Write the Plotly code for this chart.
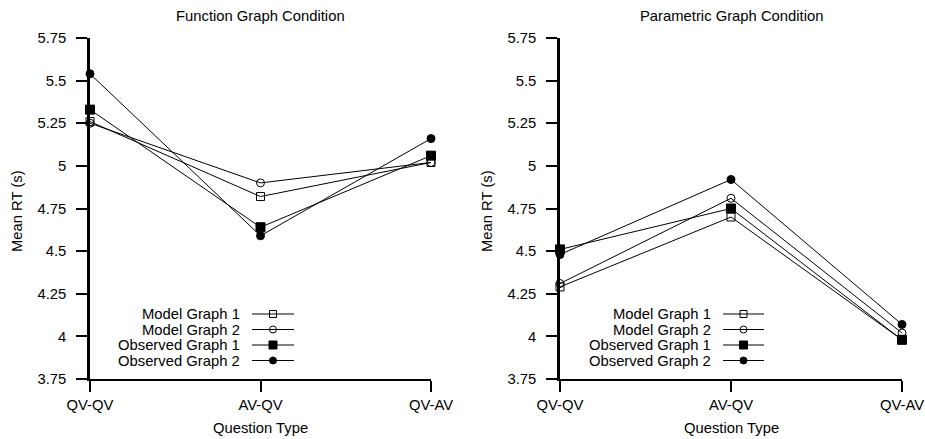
import plotly.graph_objects as go

# ---- data ----
categories = ["QV-QV", "AV-QV", "QV-AV"]
series_names = ["Model Graph 1", "Model Graph 2", "Observed Graph 1", "Observed Graph 2"]
function_model1 = [5.26, 4.82, 5.02]
function_model2 = [5.25, 4.90, 5.02]
function_obs1 = [5.33, 4.64, 5.06]
function_obs2 = [5.54, 4.59, 5.16]
parametric_model1 = [4.29, 4.70, 3.98]
parametric_model2 = [4.31, 4.81, 4.02]
parametric_obs1 = [4.51, 4.75, 3.98]
parametric_obs2 = [4.48, 4.92, 4.07]
y_ticks = [3.75, 4, 4.25, 4.5, 4.75, 5, 5.25, 5.5, 5.75]
y_tick_text = ["3.75", "4", "4.25", "4.5", "4.75", "5", "5.25", "5.5", "5.75"]
panel_titles = ["Function Graph Condition", "Parametric Graph Condition"]

# ---- styling ----
W, H = 925, 439
FONT = "Liberation Sans, Arial, sans-serif"
FS = 14.8
symbols = ["square-open", "circle-open", "square", "circle"]
sizes = [8, 8, 9, 8]
leg_sizes = [7, 7, 8, 7]

def px(x):
    return x / W

def py(y):
    return 1 - y / H

panels = [
    dict(x0=90, x1=431, data=[function_model1, function_model2, function_obs1, function_obs2],
         leg_text_right=242, leg_line=(252, 294)),
    dict(x0=560, x1=902, data=[parametric_model1, parametric_model2, parametric_obs1, parametric_obs2],
         leg_text_right=713, leg_line=(723, 764)),
]
y_top, y_bot = 38, 379
leg_rows = [314, 329.5, 345, 360.5]

fig = go.Figure()
annotations = []
layout_axes = {}

for i, p in enumerate(panels):
    xa = "x" if i == 0 else "x2"
    ya = "y" if i == 0 else "y2"
    for name, vals, sym, sz in zip(series_names, p["data"], symbols, sizes):
        fig.add_trace(go.Scatter(
            x=categories, y=vals, mode="lines+markers", name=name,
            xaxis=xa, yaxis=ya, showlegend=False, cliponaxis=False,
            line=dict(color="black", width=1),
            marker=dict(symbol=sym, size=sz, color="black", line=dict(color="black", width=1)),
        ))
    xkey = "xaxis" if i == 0 else "xaxis2"
    ykey = "yaxis" if i == 0 else "yaxis2"
    layout_axes[xkey] = dict(
        domain=[px(p["x0"]), px(p["x1"])], anchor=ya, type="category",
        range=[0, 2], showgrid=False, zeroline=False, automargin=False,
        showline=True, linecolor="black", linewidth=2,
        ticks="outside", ticklen=11, tickwidth=1.5, tickcolor="black",
        tickfont=dict(family=FONT, size=FS, color="black"),
    )
    layout_axes[ykey] = dict(
        domain=[py(y_bot), py(y_top)], anchor=xa, range=[3.75, 5.75],
        tickvals=y_ticks, ticktext=y_tick_text, showgrid=False, zeroline=False, automargin=False,
        showline=True, linecolor="black", linewidth=2.5,
        ticks="outside", ticklen=11, tickwidth=1.5, tickcolor="black",
        ticklabelstandoff=7,
        tickfont=dict(family=FONT, size=FS, color="black"),
    )
    cx = (p["x0"] + p["x1"]) / 2
    annotations.append(dict(text=panel_titles[i], x=px(cx), y=py(16), xref="paper", yref="paper",
                            showarrow=False, xanchor="center", yanchor="middle",
                            font=dict(family=FONT, size=FS, color="black")))
    annotations.append(dict(text="Question Type", x=px(cx), y=py(428), xref="paper", yref="paper",
                            showarrow=False, xanchor="center", yanchor="middle",
                            font=dict(family=FONT, size=FS, color="black")))
    annotations.append(dict(text="Mean RT (s)", x=px(p["x0"] - 73), y=py(211), xref="paper", yref="paper",
                            showarrow=False, xanchor="center", yanchor="middle", textangle=-90,
                            font=dict(family=FONT, size=FS, color="black")))
    # custom legend (text left of key, as in reference)
    lx0, lx1 = p["leg_line"]
    for name, sym, lsz, ry in zip(series_names, symbols, leg_sizes, leg_rows):
        annotations.append(dict(text=name, x=px(p["leg_text_right"]), y=py(ry), xref="paper", yref="paper",
                                showarrow=False, xanchor="right", yanchor="middle",
                                font=dict(family=FONT, size=FS, color="black")))
        fig.add_trace(go.Scatter(
            x=[lx0, lx1], y=[ry, ry], mode="lines", xaxis="x3", yaxis="y3", showlegend=False,
            line=dict(color="black", width=1), hoverinfo="skip"))
        fig.add_trace(go.Scatter(
            x=[(lx0 + lx1) / 2], y=[ry], mode="markers", xaxis="x3", yaxis="y3", showlegend=False,
            marker=dict(symbol=sym, size=lsz, color="black", line=dict(color="black", width=1)),
            hoverinfo="skip"))

layout_axes["xaxis3"] = dict(domain=[0, 1], range=[0, W], visible=False, anchor="y3",
                             fixedrange=True, automargin=False)
layout_axes["yaxis3"] = dict(domain=[0, 1], range=[H, 0], visible=False, anchor="x3",
                             fixedrange=True, automargin=False)

fig.update_layout(
    width=W, height=H, autosize=False,
    margin=dict(l=0, r=0, t=0, b=0, pad=0, autoexpand=False),
    paper_bgcolor="white", plot_bgcolor="rgba(0,0,0,0)",
    showlegend=False, annotations=annotations,
    font=dict(family=FONT, size=FS, color="black"),
    **layout_axes,
)

fig.write_html(
    "out.html",
    config={"displayModeBar": False},
    post_script="document.body.style.margin='0';document.body.style.padding='0';"
                "document.body.style.overflow='hidden';",
)
